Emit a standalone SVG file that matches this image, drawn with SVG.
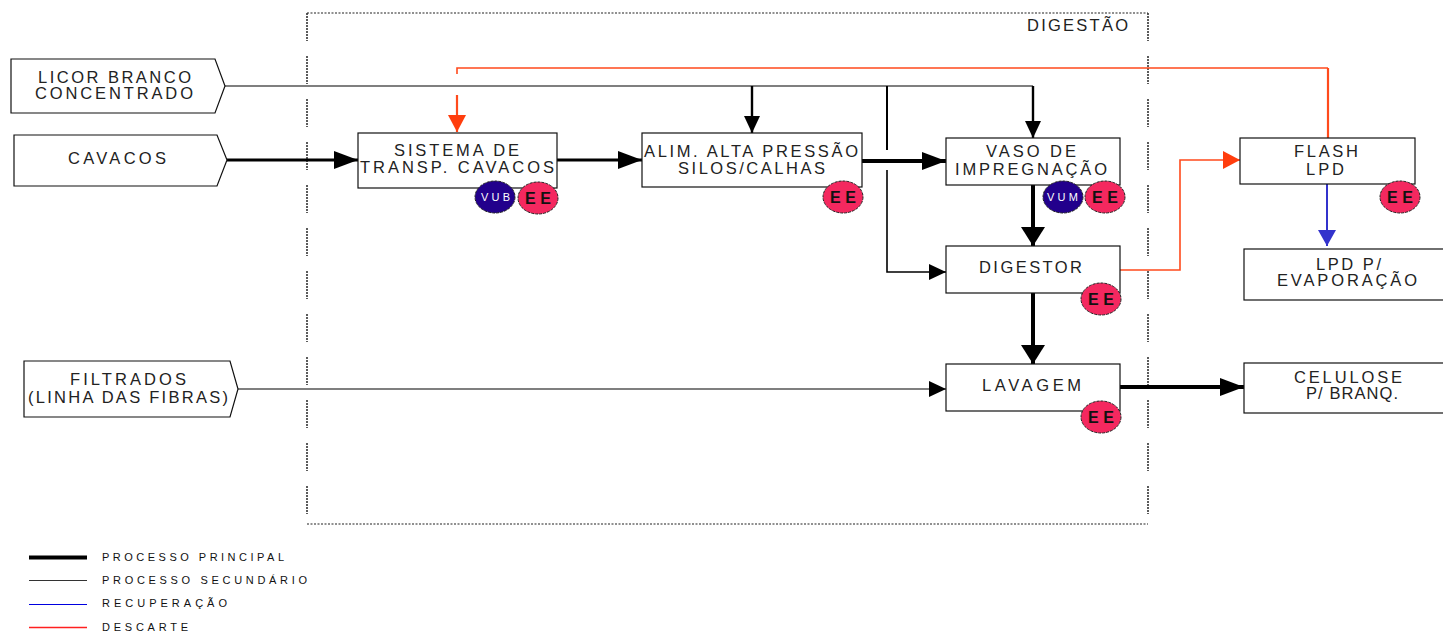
<svg xmlns="http://www.w3.org/2000/svg" width="1443" height="633" viewBox="0 0 1443 633">
<style>
text{font-family:"Liberation Sans",Arial,sans-serif;fill:#222;font-size:16.5px}
.n{fill:#fff;stroke:#111;stroke-width:1.2}
.lg{font-size:11px;fill:#111}
.ee{fill:#f4285f;stroke:#222;stroke-width:1;stroke-dasharray:3 1}
.vu{fill:#22008c;stroke:#222;stroke-width:1;stroke-dasharray:3 1}
.eet{font-size:16px;font-weight:bold;fill:#111}
.vut{font-size:11px;fill:#fff}
.c{fill:none;stroke:#000}
.s{stroke-width:1.2}.m{stroke-width:3}.h{stroke-width:4}
.r{fill:none;stroke:#ff4a1c;stroke-width:1.6}
.b{fill:none;stroke:#3333cc;stroke-width:2}
.fv{fill:none;stroke:#333;stroke-width:1.6;stroke-dasharray:2 1 2 1 2 1 2 1 2 1 2 1 2 1 2 1 2 1 1 15}
.fh{fill:none;stroke:#222;stroke-width:1.2;stroke-dasharray:2 1.5}
</style>
<defs>
<marker id="aL" markerUnits="userSpaceOnUse" markerWidth="26" markerHeight="20" refX="24" refY="9" orient="auto"><path d="M0 0L24 9L0 18Z" fill="#000"/></marker>
<marker id="aV" markerUnits="userSpaceOnUse" markerWidth="22" markerHeight="26" refX="19" refY="12" orient="auto"><path d="M0 0L19 12L0 24Z" fill="#000"/></marker>
<marker id="aM" markerUnits="userSpaceOnUse" markerWidth="20" markerHeight="18" refX="17" refY="8" orient="auto"><path d="M0 0L17 8L0 16Z" fill="#000"/></marker>
<marker id="aR" markerUnits="userSpaceOnUse" markerWidth="20" markerHeight="20" refX="17" refY="9" orient="auto"><path d="M0 0L17 9L0 18Z" fill="#ff3d0d"/></marker>
<marker id="aB" markerUnits="userSpaceOnUse" markerWidth="20" markerHeight="20" refX="16" refY="9" orient="auto"><path d="M0 0L16 9L0 18Z" fill="#3333cc"/></marker>
</defs>
<g id="digestao-frame">
<path class="fh" d="M307 13H1148"/>
<path class="fh" d="M307 524H1148"/>
<path class="fv" d="M307 13V524"/>
<path class="fv" d="M1148 13V524"/>
<text x="1027" y="31" textLength="101" lengthAdjust="spacing">DIGESTÃO</text>
</g>
<g id="connectors">
<path class="c s" d="M225 86H1033"/>
<path class="c" style="stroke-width:2.4" d="M1033 86V138" marker-end="url(#aM)"/>
<path class="c" style="stroke-width:2.4" d="M752 86V133" marker-end="url(#aM)"/>
<path class="c" style="stroke-width:2" d="M887 86V150"/>
<path class="c" style="stroke-width:1.6" d="M887 170V272H946" marker-end="url(#aM)"/>
<path class="c m" d="M227 160H358" marker-end="url(#aL)"/>
<path class="c m" d="M557 160H642" marker-end="url(#aL)"/>
<path class="c h" d="M862 161H946" marker-end="url(#aL)"/>
<path class="c h" d="M1033 185V246" marker-end="url(#aV)"/>
<path class="c h" d="M1033 293V364" marker-end="url(#aV)"/>
<path class="c h" d="M1120 387H1244" marker-end="url(#aL)"/>
<path class="c s" d="M238 389H946" marker-end="url(#aM)"/>
<path class="r" d="M457 74V68H1328"/>
<path class="r" style="stroke-width:2.2" d="M1328 68V138"/>
<path class="r" style="stroke-width:2.2" d="M457 95V132" marker-end="url(#aR)"/>
<path class="r" d="M1120 270H1180V160H1240" marker-end="url(#aR)"/>
<path class="b" d="M1327 184V246" marker-end="url(#aB)"/>
</g>
<g id="licor"><path class="n" d="M11 59H215L225 86L215 113H11Z"/><text x="38" y="83" textLength="153" lengthAdjust="spacing">LICOR BRANCO</text><text x="35" y="99" textLength="158" lengthAdjust="spacing">CONCENTRADO</text></g>
<g id="cavacos"><path class="n" d="M14 135H217L227 160L217 186H14Z"/><text x="68" y="164" textLength="98" lengthAdjust="spacing">CAVACOS</text></g>
<g id="filtrados"><path class="n" d="M24 361H230L238 389L230 417H24Z"/><text x="70" y="385" textLength="116" lengthAdjust="spacing">FILTRADOS</text><text x="28" y="403" textLength="200" lengthAdjust="spacing">(LINHA DAS FIBRAS)</text></g>
<g id="sistema"><rect class="n" x="358" y="133" width="199" height="55"/><text x="394" y="156" textLength="125" lengthAdjust="spacing">SISTEMA DE</text><text x="360" y="173" textLength="194" lengthAdjust="spacing">TRANSP. CAVACOS</text>
<ellipse class="vu" cx="495" cy="197" rx="20" ry="16"/><text class="vut" x="481" y="201" textLength="29" lengthAdjust="spacing">VUB</text>
<ellipse class="ee" cx="538" cy="198" rx="20" ry="16"/><text class="eet" x="525" y="204" textLength="26" lengthAdjust="spacing">EE</text></g>
<g id="alim"><rect class="n" x="642" y="133" width="220" height="54"/><text x="644" y="157" textLength="214" lengthAdjust="spacing">ALIM. ALTA PRESSÃO</text><text x="678" y="174" textLength="147" lengthAdjust="spacing">SILOS/CALHAS</text>
<ellipse class="ee" cx="843" cy="197" rx="20" ry="16"/><text class="eet" x="830" y="203" textLength="26" lengthAdjust="spacing">EE</text></g>
<g id="vaso"><rect class="n" x="946" y="138" width="174" height="47"/><text x="986" y="157" textLength="90" lengthAdjust="spacing">VASO DE</text><text x="955" y="175" textLength="152" lengthAdjust="spacing">IMPREGNAÇÃO</text>
<ellipse class="vu" cx="1063" cy="197" rx="20" ry="16"/><text class="vut" x="1047" y="201" textLength="31" lengthAdjust="spacing">VUM</text>
<ellipse class="ee" cx="1105" cy="197" rx="20" ry="16"/><text class="eet" x="1092" y="203" textLength="26" lengthAdjust="spacing">EE</text></g>
<g id="digestor"><rect class="n" x="946" y="246" width="174" height="47"/><text x="979" y="273" textLength="103" lengthAdjust="spacing">DIGESTOR</text>
<ellipse class="ee" cx="1101" cy="299" rx="20" ry="16"/><text class="eet" x="1088" y="305" textLength="26" lengthAdjust="spacing">EE</text></g>
<g id="lavagem"><rect class="n" x="946" y="364" width="174" height="47"/><text x="982" y="391" textLength="99" lengthAdjust="spacing">LAVAGEM</text>
<ellipse class="ee" cx="1101" cy="417" rx="20" ry="16"/><text class="eet" x="1088" y="423" textLength="26" lengthAdjust="spacing">EE</text></g>
<g id="flash"><rect class="n" x="1240" y="138" width="175" height="46"/><text x="1294" y="157" textLength="64" lengthAdjust="spacing">FLASH</text><text x="1306" y="175" textLength="38" lengthAdjust="spacing">LPD</text>
<ellipse class="ee" cx="1400" cy="197" rx="20" ry="16"/><text class="eet" x="1387" y="203" textLength="26" lengthAdjust="spacing">EE</text></g>
<g id="lpd"><rect class="n" x="1244" y="249" width="205" height="51"/><text x="1316" y="270" textLength="65" lengthAdjust="spacing">LPD P/</text><text x="1277" y="286" textLength="140" lengthAdjust="spacing">EVAPORAÇÃO</text></g>
<g id="celulose"><rect class="n" x="1244" y="363" width="205" height="50"/><text x="1294" y="383" textLength="108" lengthAdjust="spacing">CELULOSE</text><text x="1306" y="399" textLength="92" lengthAdjust="spacing">P/ BRANQ.</text></g>
<g id="legend">
<path d="M29 557.500H87" stroke="#000" stroke-width="4"/>
<path d="M29 580.500H87" stroke="#333" stroke-width="1.2"/>
<path d="M29 604.500H87" stroke="#0000e0" stroke-width="1.2"/>
<path d="M29 627.500H87" stroke="#ff2020" stroke-width="1.4"/>
<text class="lg" x="102" y="561" textLength="182" lengthAdjust="spacing">PROCESSO PRINCIPAL</text>
<text class="lg" x="102" y="584" textLength="205" lengthAdjust="spacing">PROCESSO SECUNDÁRIO</text>
<text class="lg" x="102" y="607" textLength="125" lengthAdjust="spacing">RECUPERAÇÃO</text>
<text class="lg" x="102" y="631" textLength="86" lengthAdjust="spacing">DESCARTE</text>
</g>
</svg>
